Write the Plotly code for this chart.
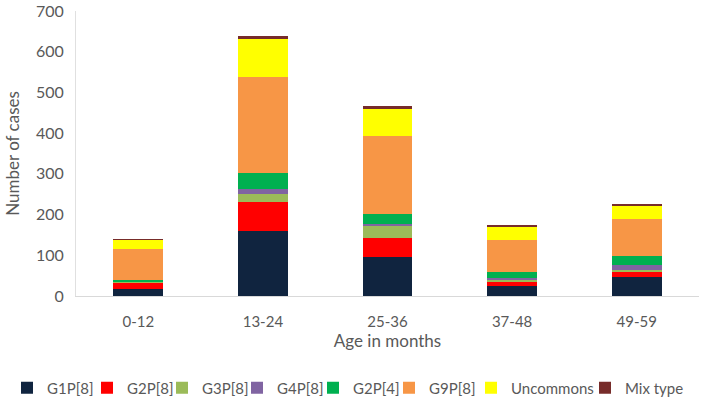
import plotly.graph_objects as go

categories = ["0-12", "13-24", "25-36", "37-48", "49-59"]
series_names = ["G1P[8]", "G2P[8]", "G3P[8]", "G4P[8]", "G2P[4]", "G9P[8]", "Uncommons", "Mix type"]
g1p8 = [17, 160, 95, 25, 47]
g2p8 = [15, 72, 47, 10, 13]
g3p8 = [3, 19, 30, 5, 4]
g4p8 = [1, 11, 6, 4, 13]
g2p4 = [4, 41, 24, 16, 22]
g9p8 = [75, 235, 192, 77, 89]
uncommons = [23, 94, 66, 34, 34]
mixtype = [1, 6, 6, 3, 4]
values = [g1p8, g2p8, g3p8, g4p8, g2p4, g9p8, uncommons, mixtype]
colors = ["#10243F", "#FF0000", "#9BBB59", "#8064A2", "#00B050", "#F79646", "#FFFF00", "#772C2A"]
legend_x = [29, 109, 184, 259, 335, 411, 493, 607]

fig = go.Figure()
legend_layout = {}
for i, (name, vals, col) in enumerate(zip(series_names, values, colors)):
    lid = "legend" if i == 0 else f"legend{i + 1}"
    fig.add_trace(go.Bar(x=categories, y=vals, name=name, marker_color=col,
                         marker_line_width=0, legend=lid))
    legend_layout[lid] = dict(
        orientation="h", xref="container", yref="container",
        x=(legend_x[i] - 22) / 707, xanchor="left", y=1 - 388 / 401, yanchor="middle",
        font=dict(size=15, color="#595959"), itemwidth=30,
        bgcolor="rgba(0,0,0,0)", borderwidth=0,
    )

fig.update_layout(
    barmode="stack",
    bargap=0.6,
    width=707, height=401,
    margin=dict(l=76, r=8, t=11, b=105, autoexpand=False),
    plot_bgcolor="white", paper_bgcolor="white",
    font=dict(family="Lato, 'Open Sans', sans-serif", color="#595959", size=14),
    showlegend=True,
    **legend_layout,
)
fig.update_xaxes(showline=True, linecolor="#D9D9D9", linewidth=1, ticks="",
                 ticklabelstandoff=12,
                 title=dict(text="Age in months", standoff=0, font=dict(size=17)),
                 tickfont=dict(size=15))
fig.update_yaxes(range=[0, 700], dtick=100, showgrid=False, showline=True,
                 linecolor="#E0E0E0", linewidth=1, zeroline=False,
                 ticklabelstandoff=8,
                 title=dict(text="Number of cases", standoff=12, font=dict(size=17)),
                 tickfont=dict(size=16))

fig.write_html("out.html", config={"displayModeBar": False},
               post_script="document.body.style.margin='0';")
